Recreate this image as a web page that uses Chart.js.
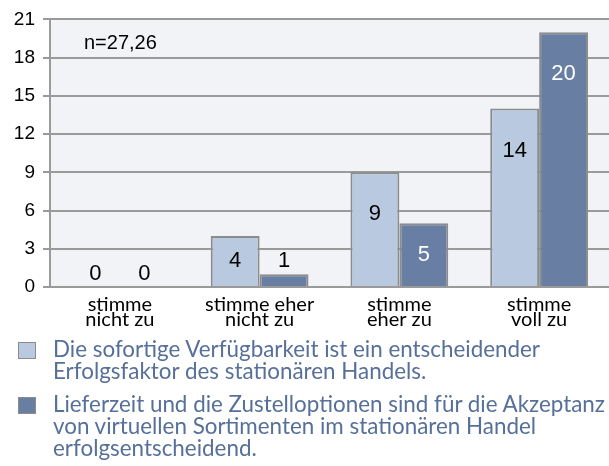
<!DOCTYPE html>
<html>
<head>
<meta charset="utf-8">
<script src="https://cdn.jsdelivr.net/npm/chart.js@4/dist/chart.umd.min.js"></script>
<style>
body{margin:0;background:#fff;width:609px;height:466px;overflow:hidden}
#wrap{position:absolute;left:0;top:0;width:609px;height:345px}
#legend{position:absolute;left:0;top:338px;width:609px;font-family:Lato,"Open Sans",sans-serif}
.item{position:relative;padding-left:53px;margin-bottom:11px}
.box{position:absolute;left:18px;top:4px;width:16px;height:15px;border:1px solid #8c8c8c}
.txt{color:#56709a;font-size:22.4px;line-height:22px;white-space:nowrap}
</style>
</head>
<body>
<div id="wrap"><canvas id="chart" width="609" height="345"></canvas></div>
<div id="legend"></div>
<script>
var categories = [["stimme", "nicht zu"], ["stimme eher", "nicht zu"], ["stimme", "eher zu"], ["stimme", "voll zu"]];
var seriesA = [0, 4, 9, 14];
var seriesB = [0, 1, 5, 20];
var legendA = ["Die sofortige Verfügbarkeit ist ein entscheidender", "Erfolgsfaktor des stationären Handels."];
var legendB = ["Lieferzeit und die Zustelloptionen sind für die Akzeptanz", "von virtuellen Sortimenten im stationären Handel", "erfolgsentscheidend."];
var yTicks = [0, 3, 6, 9, 12, 15, 18, 21];
var note = "n=27,26";

var colors = ["#b9c9df", "#687fa3"];
var labelColors = ["#000", "#fff"];

// plot background + note text
var backPlugin = {
    id: "back",
    beforeDraw: function(c){
        let a = c.chartArea;
        let ctx = c.ctx;
        ctx.save();
        ctx.fillStyle = "#f2f3f7";
        ctx.fillRect(a.left, a.top, a.right - a.left, a.bottom - a.top);
        ctx.restore();
    },
    afterDraw: function(c){
        let a = c.chartArea;
        let ctx = c.ctx;
        ctx.save();
        ctx.font = "20px 'Liberation Sans', Arial, sans-serif";
        ctx.fillStyle = "#000";
        ctx.textBaseline = "middle";
        ctx.fillText(note, a.left + 34, a.top + 24);
        ctx.restore();
    }
};

// value labels on bars
var labelPlugin = {
    id: "vals",
    afterDatasetsDraw: function(c){
        let ctx = c.ctx;
        ctx.save();
        ctx.font = "22px 'Liberation Sans', Arial, sans-serif";
        ctx.textAlign = "center";
        ctx.textBaseline = "middle";
        c.data.datasets.forEach(function(ds, i){
            let meta = c.getDatasetMeta(i);
            meta.data.forEach(function(bar, j){
                let h = bar.base - bar.y;
                let y;
                if (h < 20) {
                    ctx.fillStyle = "#000";
                    y = bar.y - 13;
                } else {
                    ctx.fillStyle = labelColors[i];
                    y = Math.min((bar.y + bar.base) / 2, bar.y + 42);
                }
                ctx.fillText(String(ds.data[j]), bar.x, y);
            });
        });
        ctx.restore();
    }
};

var ctx = document.getElementById("chart");
var chart = new Chart(ctx, {
    type: "bar",
    data: {
        labels: categories,
        datasets: [
            {label: legendA.join(" "), data: seriesA, backgroundColor: colors[0], borderColor: "#8c8c8c", borderWidth: 2},
            {label: legendB.join(" "), data: seriesB, backgroundColor: colors[1], borderColor: "#8c8c8c", borderWidth: 2}
        ]
    },
    options: {
        responsive: false,
        animation: false,
        layout: {padding: {top: 19, right: 0, left: 0, bottom: 0}},
        plugins: {legend: {display: false}, tooltip: {enabled: false}},
        datasets: {bar: {categoryPercentage: 0.7, barPercentage: 1.0}},
        scales: {
            x: {
                grid: {display: false},
                border: {display: false},
                ticks: {
                    color: "#000",
                    font: {family: "Lato, 'Open Sans', sans-serif", size: 20, lineHeight: 0.75},
                    padding: 2,
                    maxRotation: 0,
                    autoSkip: false
                },
                afterFit: function(s){ s.height = 58; }
            },
            y: {
                min: 0,
                max: 21,
                afterBuildTicks: function(s){ s.ticks = yTicks.map(function(v){ return {value: v}; }); },
                grid: {color: "#9a9a9a", lineWidth: 2, tickLength: 7},
                border: {display: true, color: "#9a9a9a", width: 2},
                ticks: {
                    color: "#000",
                    font: {family: "'Liberation Sans', Arial, sans-serif", size: 19},
                    padding: 8
                },
                afterFit: function(s){ s.width = 50; }
            }
        }
    },
    plugins: [backPlugin, labelPlugin]
});

// legend below the chart
var legend = document.getElementById("legend");
[legendA, legendB].forEach(function(lines, i){
    let item = document.createElement("div");
    item.className = "item";
    let box = document.createElement("div");
    box.className = "box";
    box.style.background = colors[i];
    let txt = document.createElement("div");
    txt.className = "txt";
    txt.innerHTML = lines.join("<br>");
    item.appendChild(box);
    item.appendChild(txt);
    legend.appendChild(item);
});
</script>
</body>
</html>
